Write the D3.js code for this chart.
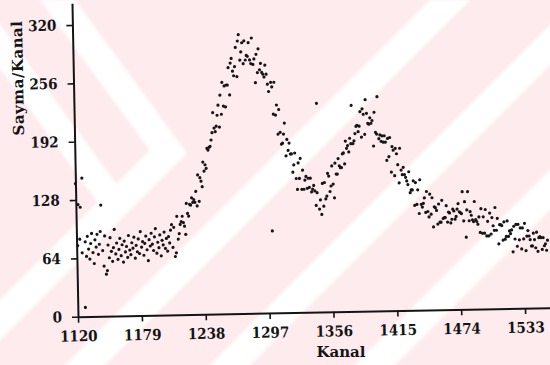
<!DOCTYPE html>
<html>
<head>
<meta charset="utf-8">
<script src="https://cdn.jsdelivr.net/npm/d3@7"></script>
<style>
  body { margin: 0; background: #fff; }
  svg { display: block; }
  .axis text {
    font-family: "DejaVu Serif Condensed", "DejaVu Serif", serif;
    font-stretch: condensed;
    font-weight: bold;
    font-size: 15px;
    fill: #141414;
  }
  .axis path { stroke: #141414; stroke-width: 2px; }
  .axis line { stroke: #141414; stroke-width: 1.6px; }
  .title {
    font-family: "DejaVu Serif", serif;
    font-weight: bold;
    font-size: 15px;
    fill: #141414;
  }
</style>
</head>
<body>
<svg id="chart" width="550" height="365"></svg>
<script>
// one count per channel, channels run on from here
const firstChannel = 1120;

// 1120 - 1207
const baseline = [
  146, 78, 123, 85, 120, 70, 152, 10, 82, 66,
  88, 74, 63, 80, 91, 70, 58, 84, 76, 90,
  68, 79, 93, 122, 72, 55, 88, 46, 50, 78,
  64, 86, 71, 60, 75, 95, 68, 80, 62, 73,
  85, 66, 78, 59, 82, 70, 76, 64, 88, 72,
  67, 80, 74, 86, 63, 77, 70, 84, 68, 92,
  75, 81, 66, 79, 87, 72, 60, 83, 76, 90,
  78, 71, 86, 95, 68, 80, 74, 88, 65, 82,
  77, 91, 73, 84, 70, 86, 79, 93
];
// 1208 - 1303
const firstPeak = [
  99, 74, 96, 64, 68, 108, 83, 89, 99, 102,
  108, 101, 97, 88, 122, 111, 108, 121, 120, 128,
  123, 126, 123, 135, 119, 153, 124, 150, 146, 140,
  167, 157, 164, 160, 182, 180, 183, 184, 191, 199,
  221, 204, 200, 206, 218, 229, 205, 240, 219, 254,
  228, 250, 227, 251, 251, 270, 240, 275, 280, 266,
  261, 271, 292, 260, 299, 306, 278, 287, 297, 274,
  299, 278, 283, 282, 297, 278, 274, 302, 273, 279,
  253, 284, 264, 290, 267, 274, 264, 262, 259, 272,
  262, 251, 243, 90, 253, 248
];
// 1304 - 1353
const valley = [
  218, 253, 217, 228, 196, 223, 198, 185, 186, 196,
  208, 172, 190, 178, 186, 174, 174, 154, 162, 175,
  147, 135, 164, 147, 169, 135, 156, 135, 145, 149,
  136, 147, 137, 147, 132, 135, 139, 133, 117, 131,
  229, 113, 123, 107, 141, 116, 142, 124, 127, 152
];
// 1354 - 1423
const secondPeak = [
  149, 132, 138, 160, 140, 125, 163, 151, 151, 168,
  160, 158, 158, 173, 174, 162, 187, 179, 182, 175,
  190, 184, 226, 184, 187, 195, 203, 204, 197, 203,
  219, 191, 222, 216, 194, 232, 217, 206, 205, 212,
  206, 209, 181, 218, 196, 194, 235, 189, 193, 186,
  192, 185, 192, 185, 165, 189, 169, 190, 152, 180,
  176, 148, 178, 172, 160, 140, 178, 154, 149, 157
];
// 1424 - 1555
const tail = [
  149, 146, 142, 138, 152, 129, 132, 132, 142, 115,
  140, 116, 132, 106, 143, 116, 113, 117, 123, 107,
  130, 108, 102, 127, 105, 123, 91, 113, 112, 109,
  94, 116, 96, 96, 120, 100, 101, 101, 114, 96,
  107, 106, 95, 99, 110, 108, 99, 102, 110, 116,
  107, 106, 105, 129, 97, 118, 79, 109, 129, 97,
  107, 103, 98, 96, 118, 98, 96, 93, 101, 84,
  110, 83, 101, 83, 109, 80, 96, 80, 105, 82,
  100, 91, 86, 111, 86, 99, 71, 92, 92, 91,
  75, 95, 76, 79, 96, 79, 85, 82, 86, 62,
  90, 76, 92, 68, 92, 75, 88, 65, 88, 76,
  93, 63, 79, 85, 79, 75, 68, 68, 82, 75,
  66, 83, 62, 77, 78, 77, 64, 77, 68, 70,
  63, 74
];

const xTicks = [1120, 1179, 1238, 1297, 1356, 1415, 1474, 1533];
const yTicks = [0, 64, 128, 192, 256, 320];
const xTitle = "Kanal";
const yTitle = "Sayma/Kanal";

const counts = [].concat(baseline, firstPeak, valley, secondPeak, tail);
const points = counts.map((v, i) => ({ ch: firstChannel + i, v: v }));

const width = 550, height = 365;
const originX = 78, originY = 316.7;

const svg = d3.select("#chart");

// faint pink watermark behind the scan
const defs = svg.append("defs");
defs.append("filter").attr("id", "soft")
  .append("feGaussianBlur").attr("stdDeviation", 1.5);

const wm = svg.append("g").attr("filter", "url(#soft)");
wm.append("rect").attr("x", -10).attr("y", -10)
  .attr("width", width + 20).attr("height", height + 20)
  .attr("fill", "#fdebee");

// "/" stripes, x + y = s
const slashStripes = [450, 595, 740];
slashStripes.forEach(s => {
  wm.append("polygon")
    .attr("points", [[s - 20, 0], [s + 20, 0], [s + 20 - 420, 420], [s - 20 - 420, 420]].join(" "))
    .attr("fill", "#fff");
});

// chevron: steep "\" arm down to a tip, then "/" arm to the lower left
const k = 0.73;
const tipOuter = [75 + k * (340 - 75) / (1 + k), (340 - 75) / (1 + k)];
const tipInner = [40 + k * (300 - 40) / (1 + k), (300 - 40) / (1 + k)];
wm.append("polygon")
  .attr("points", [[40, 0], [75, 0], tipOuter, [340 - 420, 420], [300 - 420, 420], tipInner].join(" "))
  .attr("fill", "#fff");

// second "\" arm ending on the chevron
const yA = (305 + 50) / (1 + k), yB = (305 + 18) / (1 + k);
wm.append("polygon")
  .attr("points", [[-50, 0], [-18, 0], [-18 + k * yB, yB], [-50 + k * yA, yA]].join(" "))
  .attr("fill", "#fff");

// the scanned plot is tilted a little
const chart = svg.append("g")
  .attr("transform", `rotate(-1.1, ${originX}, ${originY})`);

const x = d3.scaleLinear().domain([1120, 1556]).range([originX, 550]);
const y = d3.scaleLinear().domain([0, 344]).range([originY, originY - 344 * 0.9116]);

chart.append("g")
  .attr("class", "axis")
  .attr("transform", `translate(0,${originY})`)
  .call(d3.axisBottom(x).tickValues(xTicks).tickFormat(d3.format("d"))
    .tickSize(6).tickSizeOuter(0).tickPadding(8));

chart.append("g")
  .attr("class", "axis")
  .attr("transform", `translate(${originX},0)`)
  .call(d3.axisLeft(y).tickValues(yTicks).tickFormat(d3.format("d"))
    .tickSize(6).tickSizeOuter(0).tickPadding(10));

chart.append("g")
  .selectAll("circle")
  .data(points)
  .join("circle")
  .attr("cx", d => x(d.ch))
  .attr("cy", d => y(d.v))
  .attr("r", 1.6)
  .attr("fill", "#161616");

svg.append("text")
  .attr("class", "title")
  .attr("text-anchor", "middle")
  .attr("transform", "translate(23,78) rotate(-91)")
  .style("letter-spacing", "0.5px")
  .text(yTitle);

svg.append("text")
  .attr("class", "title")
  .attr("text-anchor", "middle")
  .attr("x", 341)
  .attr("y", 357)
  .text(xTitle);
</script>
</body>
</html>
